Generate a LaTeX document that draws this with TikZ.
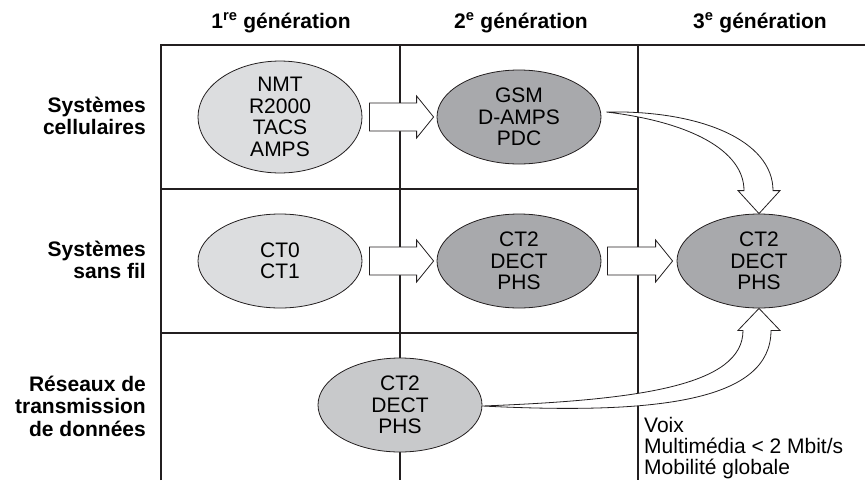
\documentclass[tikz,border=0pt]{standalone}
\usepackage{fontspec}
\setmainfont{Liberation Sans}
\usetikzlibrary{shapes.geometric,calc}
\definecolor{lightfill}{RGB}{220,221,223}
\definecolor{midfill}{RGB}{200,201,203}
\definecolor{darkfill}{RGB}{168,169,172}
\definecolor{gridcol}{RGB}{35,31,32}
\newcommand\blockarrow[2]{%
  \draw[barrow] let \p1=(#1), \p2=(#2) in
    (\x1,\y1+14pt) -- (\x2-17pt,\y1+14pt) -- (\x2-17pt,\y1+21pt) -- (\x2,\y1)
    -- (\x2-17pt,\y1-21pt) -- (\x2-17pt,\y1-14pt) -- (\x1,\y1-14pt) -- cycle;}
\begin{document}
\begin{tikzpicture}[x=1pt,y=-1pt,
  gridline/.style={line width=1.8pt,draw=gridcol},
  gen/.style={ellipse,draw=gridcol,line width=0.8pt,minimum width=164pt,minimum height=94pt,
    inner sep=0pt,align=center,font=\fontsize{21}{21.5}\selectfont},
  head/.style={font=\bfseries\fontsize{21}{22}\selectfont,anchor=base,inner sep=0pt},
  rowlab/.style={font=\bfseries\fontsize{21}{22.5}\selectfont,align=right,anchor=east,inner sep=0pt},
  barrow/.style={draw=gridcol,line width=0.8pt,fill=white,line join=miter},
]
\useasboundingbox (0,0) rectangle (865,480);

% grid
\draw[gridline] (161,480) -- (161,45) -- (865,45);
\draw[gridline] (400,45) -- (400,480);
\draw[gridline] (638,45) -- (638,480);
\draw[gridline] (161,189) -- (638,189);
\draw[gridline] (161,333) -- (638,333);

% headers
\node[head] (g1) at (281,28) {1\textsuperscript{re} génération};
\node[head] (g2) at (521,28) {2\textsuperscript{e} génération};
\node[head] (g3) at (760,28) {3\textsuperscript{e} génération};

% row labels
\node[rowlab] (r1) at (146,116) {Systèmes\\cellulaires};
\node[rowlab] (r2) at (146,260) {Systèmes\\sans fil};
\node[rowlab] (r3) at (146,406) {Réseaux de\\transmission\\de données};

% ellipses
\node[gen,fill=lightfill] (e11) at (280,117) {NMT\\R2000\\TACS\\AMPS};
\node[gen,fill=darkfill]  (e12) at (519,117) {GSM\\D-AMPS\\PDC};
\node[gen,fill=lightfill] (e21) at (280,261) {CT0\\CT1};
\node[gen,fill=darkfill]  (e22) at (519,261) {CT2\\DECT\\PHS};
\node[gen,fill=darkfill]  (e23) at (759,261) {CT2\\DECT\\PHS};
\node[gen,fill=midfill]   (e31) at (400,405) {CT2\\DECT\\PHS};

% straight block arrows
\blockarrow{$(e11.east)+(7,0)$}{$(e12.west)+(-3,0)$}
\blockarrow{$(e21.east)+(7,0)$}{$(e22.west)+(-3,0)$}
\blockarrow{$(e22.east)+(6,0)$}{$(e23.west)+(-4,0)$}

% curved block arrows
\coordinate (t1) at ($(e12.east)+(5,-5)$);
\coordinate (h1) at (e23.north);
\draw[barrow] (t1) .. controls +(94,-2) and +(0,-50) .. ($(h1)+(14,-23)$)
  -- ($(h1)+(21,-23)$) -- (h1) -- ($(h1)+(-21,-23)$) -- ($(h1)+(-15,-23)$)
  .. controls +(0,-40) and +(84,10) .. (t1) -- cycle;

\coordinate (t2) at ($(e31.east)+(0,1)$);
\coordinate (h2) at (e23.south);
\draw[barrow] (t2) .. controls +(158,-6) and +(0,55) .. ($(h2)+(-16,22)$)
  -- ($(h2)+(-21,22)$) -- (h2) -- ($(h2)+(21,22)$) -- ($(h2)+(12,22)$)
  .. controls +(0,70) and +(178,9) .. (t2) -- cycle;

% features
\node[anchor=north west,inner sep=0pt,align=left,font=\fontsize{21}{21}\selectfont] (feat)
  at (644,417) {Voix\\Multimédia < 2 Mbit/s\\Mobilité globale};
\end{tikzpicture}
\end{document}
